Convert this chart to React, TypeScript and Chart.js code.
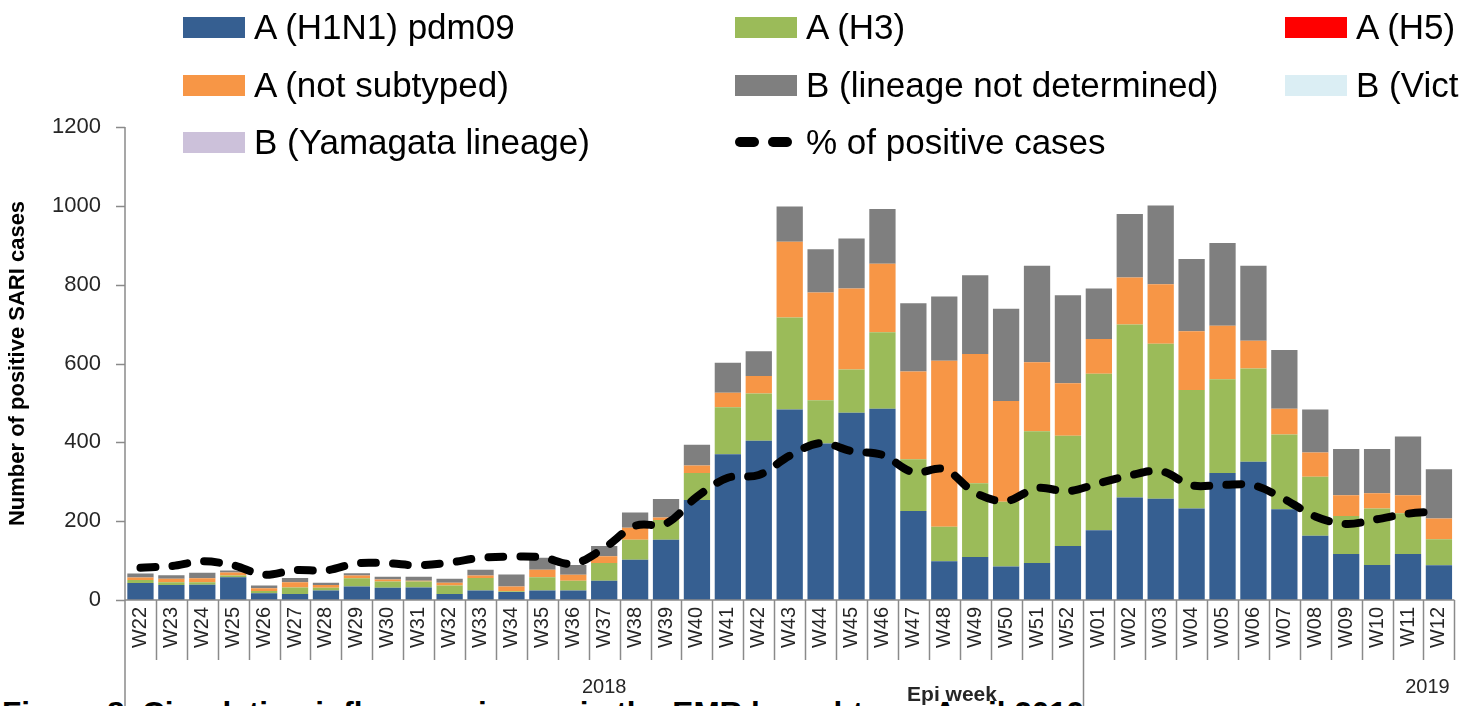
import React, { useEffect, useRef } from 'react';
import { Chart, registerables } from 'chart.js';

Chart.register(...registerables);

const FONT = "'Liberation Sans', Arial, sans-serif";

const weeks = [
  'W22', 'W23', 'W24', 'W25', 'W26', 'W27', 'W28', 'W29', 'W30', 'W31', 'W32',
  'W33', 'W34', 'W35', 'W36', 'W37', 'W38', 'W39', 'W40', 'W41', 'W42', 'W43',
  'W44', 'W45', 'W46', 'W47', 'W48', 'W49', 'W50', 'W51', 'W52',
  'W01', 'W02', 'W03', 'W04', 'W05', 'W06', 'W07', 'W08', 'W09', 'W10', 'W11', 'W12',
];

const yearLabels = ['2018', '2019'];
const yearStartIndex = [0, 31];

const h1n1 = [
  43, 38, 39, 58, 17, 15, 24, 34, 31, 32, 15,
  24, 20, 24, 24, 49, 102, 153, 254, 370, 404, 483,
  397, 475, 485, 226, 98, 109, 85, 94, 137,
  177, 260, 257, 232, 322, 351, 230, 163, 117, 89, 117, 88,
];
const h3 = [
  8, 7, 6, 4, 6, 17, 7, 21, 16, 15, 22,
  32, 2, 34, 25, 45, 51, 50, 68, 119, 120, 234,
  110, 110, 194, 131, 88, 187, 164, 334, 280,
  397, 439, 393, 301, 238, 236, 190, 150, 96, 143, 103, 66,
];
const h5 = [
  0, 0, 0, 0, 0, 0, 0, 0, 0, 0, 0,
  0, 0, 0, 0, 0, 0, 0, 0, 0, 0, 0,
  0, 0, 0, 0, 0, 0, 0, 0, 0,
  0, 0, 0, 0, 0, 0, 0, 0, 0, 0, 0, 0,
];
const notSubtyped = [
  6, 9, 10, 8, 7, 13, 7, 7, 5, 2, 7,
  6, 12, 19, 15, 17, 30, 6, 19, 37, 44, 192,
  273, 205, 174, 223, 421, 328, 256, 175, 133,
  88, 119, 151, 149, 136, 71, 65, 61, 53, 39, 46, 53,
];
const bNotDetermined = [
  10, 9, 14, 5, 7, 11, 6, 6, 7, 10, 10,
  15, 31, 30, 25, 26, 39, 47, 53, 76, 63, 89,
  110, 127, 139, 173, 163, 200, 234, 245, 223,
  128, 161, 200, 183, 210, 190, 149, 109, 117, 112, 149, 125,
];
const bVictoria = [
  0, 0, 0, 0, 0, 0, 0, 0, 0, 0, 0,
  0, 0, 0, 0, 0, 0, 0, 0, 0, 0, 0,
  0, 0, 0, 0, 0, 0, 0, 0, 0,
  0, 0, 0, 0, 0, 0, 0, 0, 0, 0, 0, 0,
];
const bYamagata = [
  0, 0, 0, 0, 0, 0, 0, 0, 0, 0, 0,
  0, 0, 0, 0, 0, 0, 0, 0, 0, 0, 0,
  0, 0, 0, 0, 0, 0, 0, 0, 0,
  0, 0, 0, 0, 0, 0, 0, 0, 0, 0, 0, 0,
];
const percentPositive = [
  4.1, 4.3, 4.9, 4.4, 3.2, 3.8, 3.75, 4.65, 4.65, 4.4, 4.75,
  5.35, 5.5, 5.4, 4.6, 6.6, 9.4, 9.7, 13.1, 15.5, 15.85, 18.3,
  19.9, 18.9, 18.4, 16.2, 16.6, 13.6, 12.55, 14.2, 13.8,
  14.8, 15.8, 16.35, 14.55, 14.6, 14.55, 12.8, 10.6, 9.65, 10.25, 10.95, 11.25,
];

const barNames = [
  'A (H1N1) pdm09', 'A (H3)', 'A (H5)', 'A (not subtyped)',
  'B (lineage not determined)', 'B (Victoria lineage)', 'B (Yamagata lineage)',
];
const barColors = ['#365f91', '#9bbb59', '#ff0000', '#f79646', '#7f7f7f', '#dbeef4', '#ccc1da'];
const barSeries = [h1n1, h3, h5, notSubtyped, bNotDetermined, bVictoria, bYamagata];
const lineName = '% of positive cases';

const yTicks = [0, 200, 400, 600, 800, 1000, 1200];

const axisTitle = 'Number of positive SARI cases';
const xTitle = 'Epi week';
const caption = 'Figure 8. Circulating influenza viruses in the EMR by subtype, April 2019';

const decorPlugin = {
  id: 'decor',
  afterDatasetsDraw(chart: any) {
    const ctx = chart.ctx;
    const xs = chart.scales.x;
    const ys = chart.scales.y;
    const { left, right, top, bottom } = chart.chartArea;
    const n = weeks.length;
    const cw = (right - left) / n;
    const H = chart.height;
    ctx.save();
    ctx.strokeStyle = '#8a8a8a';
    ctx.lineWidth = 1.5;
    ctx.beginPath();
    ctx.moveTo(left, top);
    ctx.lineTo(left, H);
    yTicks.forEach((v) => {
      const py = Math.round(ys.getPixelForValue(v)) + 0.5;
      ctx.moveTo(left - 9, py);
      ctx.lineTo(left, py);
    });
    ctx.moveTo(left, bottom);
    ctx.lineTo(right, bottom);
    for (let i = 1; i <= n; i++) {
      const bx = Math.round(xs.getPixelForValue(i) - cw / 2) + 0.5;
      const isGroup = yearStartIndex.includes(i);
      ctx.moveTo(bx, bottom);
      ctx.lineTo(bx, isGroup ? H : bottom + 60);
    }
    ctx.stroke();

    ctx.fillStyle = '#262626';
    ctx.font = `20px ${FONT}`;
    ctx.textAlign = 'center';
    ctx.textBaseline = 'middle';
    const b0 = xs.getPixelForValue(0) - cw / 2;
    const b1 = xs.getPixelForValue(yearStartIndex[1]) - cw / 2;
    ctx.fillText(yearLabels[0], (b0 + b1) / 2, 687);
    ctx.fillText(yearLabels[1], b1 + 344, 687);

    ctx.font = `bold 21px ${FONT}`;
    ctx.textBaseline = 'alphabetic';
    ctx.fillText(xTitle, 952, 701);
    ctx.restore();
  },
};

function ChartCanvas() {
  const ref = useRef<HTMLCanvasElement | null>(null);
  useEffect(() => {
    if (!ref.current) return;
    const datasets: any[] = barSeries.map((data, i) => ({
      type: 'bar',
      label: barNames[i],
      data,
      backgroundColor: barColors[i],
      borderWidth: 0,
      barPercentage: 0.85,
      categoryPercentage: 1.0,
      stack: 'cases',
      yAxisID: 'y',
      order: 1,
    }));
    datasets.push({
      type: 'line',
      label: lineName,
      data: percentPositive,
      borderColor: '#000000',
      backgroundColor: '#000000',
      borderWidth: 8,
      borderDash: [15, 17],
      borderCapStyle: 'round',
      pointRadius: 0,
      tension: 0.35,
      fill: false,
      yAxisID: 'y1',
      order: 0,
    });
    const chart = new Chart(ref.current, {
      type: 'bar',
      data: { labels: weeks, datasets },
      options: {
        responsive: false,
        animation: false,
        layout: { padding: { top: 127, right: 6, left: 0, bottom: 0 } },
        plugins: {
          legend: { display: false },
          tooltip: { enabled: false },
        },
        scales: {
          x: {
            type: 'category',
            stacked: true,
            offset: true,
            grid: { display: false, drawTicks: false },
            border: { display: false },
            ticks: {
              autoSkip: false,
              minRotation: 90,
              maxRotation: 90,
              padding: 7,
              color: '#262626',
              font: { family: FONT, size: 20 },
            },
            afterFit: (s: any) => {
              s.height = 106;
            },
          },
          y: {
            stacked: true,
            min: 0,
            max: 1200,
            grid: { display: false, drawTicks: false },
            border: { display: false },
            ticks: {
              stepSize: 200,
              padding: 24,
              color: '#262626',
              font: { family: FONT, size: 22 },
              callback: (v: any) => String(v),
            },
            title: {
              display: true,
              text: axisTitle,
              color: '#000000',
              font: { family: FONT, size: 22, weight: 'bold' },
              padding: { top: 5, bottom: 0 },
            },
            afterFit: (s: any) => {
              s.width = 125;
            },
          },
          y1: {
            display: false,
            min: 0,
            max: 60,
            position: 'right',
          },
        },
      },
      plugins: [decorPlugin],
    });
    return () => chart.destroy();
  }, []);
  return (
    <canvas
      ref={ref}
      width={1470}
      height={706}
      style={{ position: 'absolute', left: 0, top: 0, width: 1470, height: 706 }}
    />
  );
}

function Legend() {
  const colX = [183, 735, 1285];
  const rowY = [27, 85, 142];
  const items: { label: string; color: string; line: boolean }[] = barNames.map((l, i) => ({
    label: l,
    color: barColors[i],
    line: false,
  }));
  items.push({ label: lineName, color: '#000000', line: true });
  return (
    <>
      {items.map((it, i) => {
        const r = Math.floor(i / 3);
        const c = i % 3;
        return (
          <div
            key={it.label}
            style={{
              position: 'absolute',
              left: colX[c],
              top: rowY[r] - 20,
              height: 40,
              display: 'flex',
              alignItems: 'center',
              whiteSpace: 'nowrap',
              fontFamily: FONT,
              fontSize: 35,
              color: '#000',
            }}
          >
            {it.line ? (
              <div style={{ width: 62, height: 22, display: 'flex', alignItems: 'center', gap: 9 }}>
                <div style={{ width: 24, height: 10, borderRadius: 5, background: '#000' }} />
                <div style={{ width: 24, height: 10, borderRadius: 5, background: '#000' }} />
              </div>
            ) : (
              <div style={{ width: 62, height: 21, background: it.color }} />
            )}
            <span style={{ marginLeft: 9 }}>{it.label}</span>
          </div>
        );
      })}
    </>
  );
}

export default function App() {
  return (
    <div
      style={{
        position: 'absolute',
        left: 0,
        top: 0,
        width: 1459,
        height: 706,
        overflow: 'hidden',
        background: '#ffffff',
      }}
    >
      <div
        style={{
          position: 'absolute',
          left: 2,
          top: 696,
          fontFamily: FONT,
          fontWeight: 'bold',
          fontSize: 31.5,
          lineHeight: '34px',
          whiteSpace: 'nowrap',
          color: '#000',
        }}
      >
        {caption}
      </div>
      <ChartCanvas />
      <Legend />
    </div>
  );
}
